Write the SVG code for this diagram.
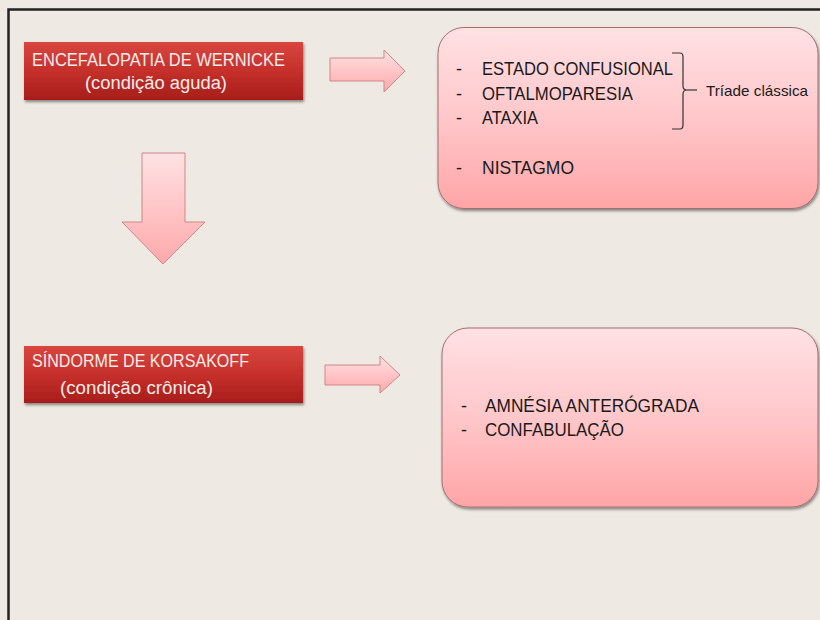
<svg xmlns="http://www.w3.org/2000/svg" width="820" height="620" viewBox="0 0 820 620">
<defs>
<linearGradient id="gRed" x1="0" y1="0" x2="0" y2="1">
<stop offset="0" stop-color="#D8463F"/>
<stop offset="0.5" stop-color="#C5302B"/>
<stop offset="1" stop-color="#A81D1A"/>
</linearGradient>
<linearGradient id="gPink" x1="0" y1="0" x2="0" y2="1">
<stop offset="0" stop-color="#FFE1E4"/>
<stop offset="0.5" stop-color="#FFC7CA"/>
<stop offset="1" stop-color="#FFA5A6"/>
</linearGradient>
<linearGradient id="gArrow" x1="0" y1="0" x2="0" y2="1">
<stop offset="0" stop-color="#FFE2E3"/>
<stop offset="1" stop-color="#FFA9AB"/>
</linearGradient>
<filter id="sh" x="-10%" y="-10%" width="120%" height="130%">
<feGaussianBlur in="SourceAlpha" stdDeviation="1.5"/>
<feOffset dx="1" dy="2" result="b"/>
<feComponentTransfer><feFuncA type="linear" slope="0.45"/></feComponentTransfer>
<feMerge><feMergeNode/><feMergeNode in="SourceGraphic"/></feMerge>
</filter>
</defs>
<style>
.bg{fill:#EEEAE3}
.frame{stroke:#222;stroke-width:2.5;fill:none}
.red{fill:url(#gRed);filter:url(#sh)}
.pink{fill:url(#gPink);stroke:#A86E6E;stroke-width:1;filter:url(#sh)}
.arr{fill:url(#gArrow);stroke:#D08587;stroke-width:1}
.wt{font-family:"Liberation Sans",Arial,sans-serif;font-size:18px;fill:#F6ECEA}
.dt{font-family:"Liberation Sans",Arial,sans-serif;font-size:18px;fill:#1A1A1A}
.st{font-family:"Liberation Sans",Arial,sans-serif;font-size:15px;fill:#1A1A1A}
.br{fill:none;stroke:#333;stroke-width:1.2}
</style>
<rect class="bg" x="0" y="0" width="820" height="620"/>
<path class="frame" d="M8.5 620 V9.5 H820"/>

<g id="wernicke">
<rect class="red" x="24" y="42" width="279" height="58"/>
<text class="wt" x="32" y="66" textLength="253" lengthAdjust="spacingAndGlyphs">ENCEFALOPATIA DE WERNICKE</text>
<text class="wt" x="85" y="89" textLength="142" lengthAdjust="spacingAndGlyphs">(condição aguda)</text>
</g>

<g id="korsakoff">
<rect class="red" x="24" y="346" width="279" height="57"/>
<text class="wt" x="32" y="367" textLength="217" lengthAdjust="spacingAndGlyphs">SÍNDORME DE KORSAKOFF</text>
<text class="wt" x="60" y="394" textLength="153" lengthAdjust="spacingAndGlyphs">(condição crônica)</text>
</g>

<g id="sintomas-wernicke">
<rect class="pink" x="438" y="27.5" width="380" height="181" rx="26" ry="26"/>
<text class="dt" x="456" y="75">-</text>
<text class="dt" x="482" y="75" textLength="191" lengthAdjust="spacingAndGlyphs">ESTADO CONFUSIONAL</text>
<text class="dt" x="456" y="100">-</text>
<text class="dt" x="482" y="100" textLength="151" lengthAdjust="spacingAndGlyphs">OFTALMOPARESIA</text>
<text class="dt" x="456" y="124">-</text>
<text class="dt" x="482" y="124" textLength="56" lengthAdjust="spacingAndGlyphs">ATAXIA</text>
<text class="dt" x="456" y="174">-</text>
<text class="dt" x="482" y="174" textLength="92" lengthAdjust="spacingAndGlyphs">NISTAGMO</text>
<path class="br" d="M672 53 H680 Q683 53 683 57 V86 Q683 90 687 90 Q683 90 683 94 V125 Q683 129 680 129 H672"/>
<path class="br" d="M687 90 H697"/>
<text class="st" x="706" y="96" textLength="102" lengthAdjust="spacingAndGlyphs">Tríade clássica</text>
</g>

<g id="sintomas-korsakoff">
<rect class="pink" x="442" y="328" width="376" height="179" rx="26" ry="26"/>
<text class="dt" x="461" y="412">-</text>
<text class="dt" x="485" y="412" textLength="214" lengthAdjust="spacingAndGlyphs">AMNÉSIA ANTERÓGRADA</text>
<text class="dt" x="461" y="436">-</text>
<text class="dt" x="485" y="436" textLength="139" lengthAdjust="spacingAndGlyphs">CONFABULAÇÃO</text>
</g>

<g id="connectors">
<path class="arr" d="M330 58 H384 V50 L405 71 L384 92 V81 H330 Z"/>
<path class="arr" d="M142 153 H185 V222 H205 L163 264 L122 222 H142 Z"/>
<path class="arr" d="M325 365 H380 V356 L400 375 L380 393 V385 H325 Z"/>
</g>
</svg>
